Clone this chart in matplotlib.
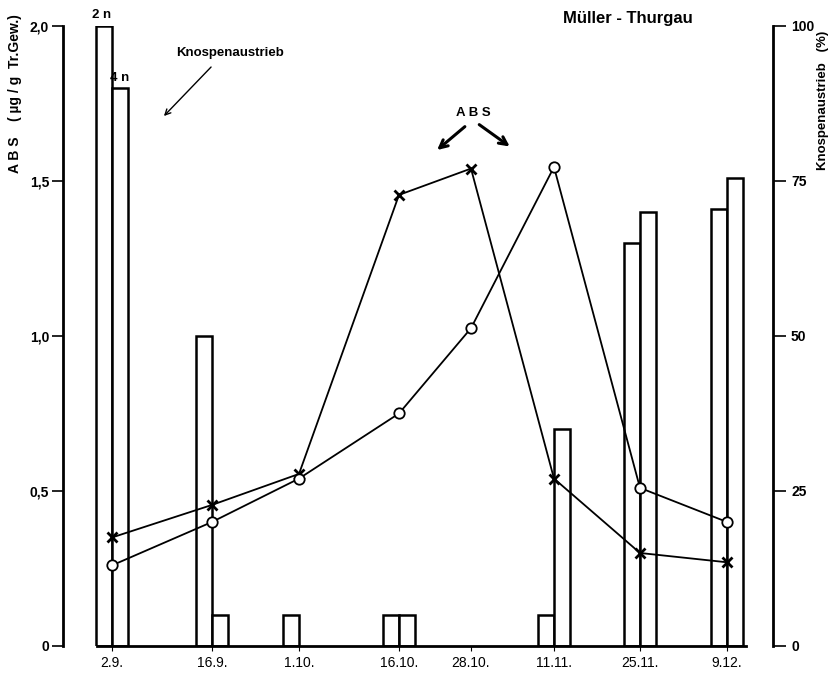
import numpy as np
import matplotlib
matplotlib.use("Agg")
import matplotlib.pyplot as plt

plt.rcParams['font.family'] = ['Liberation Sans', 'DejaVu Sans']

# sampling dates and where they sit on the (hand drawn, uneven) axis
dates = ["2.9.", "16.9.", "1.10.", "16.10.", "28.10.", "11.11.", "25.11.", "9.12."]
date_pos = [0.0, 1.0, 1.87, 2.87, 3.59, 4.42, 5.28, 6.15]

# Knospenaustrieb (%) for diploid (2n) and tetraploid (4n)
bud_2n = [100, 50, 5, 5, 0, 5, 65, 70.5]
bud_4n = [90, 5, 0, 5, 0, 35, 70, 75.5]

# ABS content (ug/g Tr.Gew.)
abs_cross = [0.35, 0.455, 0.555, 1.455, 1.54, 0.54, 0.30, 0.27]
abs_circle = [0.26, 0.40, 0.54, 0.75, 1.025, 1.545, 0.51, 0.40]

fig = plt.figure(figsize=(8.3, 6.76), dpi=100)
ax = fig.add_axes([0.0759, 0.0444, 0.8554, 0.9172])
ax2 = ax.twinx()

bw = 0.16
xs = np.array(date_pos)
# bars on the percent axis
for x, h in zip(xs, bud_2n):
    if h > 0:
        ax2.bar(x - bw / 2, h, width=bw, facecolor='white', edgecolor='black',
                linewidth=1.8, zorder=2)
for x, h in zip(xs, bud_4n):
    if h > 0:
        ax2.bar(x + bw / 2, h, width=bw, facecolor='white', edgecolor='black',
                linewidth=1.8, zorder=2)

ax2.set_ylim(0, 100)
ax.set_ylim(0, 2.0)
ax.set_xlim(-0.49, 6.61)

# ABS lines drawn on top of the bars
ax2.set_zorder(1)
ax.set_zorder(2)
ax.patch.set_visible(False)
ax.plot(xs, abs_cross, color='black', lw=1.3, marker='x', ms=7.5, mew=2,
        clip_on=False)
ax.plot(xs, abs_circle, color='black', lw=1.3, marker='o', ms=7.5, mew=1.3,
        mfc='white', clip_on=False)

# spines
for s in ['top', 'right', 'bottom']:
    ax.spines[s].set_visible(False)
ax.spines['left'].set_linewidth(2)
ax.spines['left'].set_bounds(0, 2.0)
for s in ['top', 'left']:
    ax2.spines[s].set_visible(False)
ax2.spines['right'].set_linewidth(2)
ax2.spines['right'].set_bounds(0, 100)
ax2.spines['bottom'].set_linewidth(2)
ax2.spines['bottom'].set_bounds(-0.15, 6.34)

ax.set_yticks([0, 0.5, 1.0, 1.5, 2.0])
ax.set_yticklabels(["0", "0,5", "1,0", "1,5", "2,0"], fontsize=10, fontweight='bold')
ax.tick_params(axis='y', direction='out', length=8, width=1.2, pad=2)

ax2.set_yticks([0, 25, 50, 75, 100])
ax2.set_yticklabels(["0", "25", "50", "75", "100"], fontsize=10, fontweight='bold')
ax2.tick_params(axis='y', direction='out', length=9, width=1.2, pad=4)

ax.set_xticks([])
ax2.set_xticks(xs)
ax2.set_xticklabels(dates, fontsize=9.5, fontweight='bold')
ax2.tick_params(axis='x', direction='out', length=12, width=0.8, pad=2)

# axis titles
fig.text(0.018, 0.861, "A B S    ( µg / g  Tr.Gew.)", rotation=90, ha='center',
         va='center', fontsize=10, fontweight='bold')
fig.text(0.992, 0.852, "Knospenaustrieb   (%)", rotation=90, ha='center',
         va='center', fontsize=9.5, fontweight='bold')
fig.text(0.757, 0.973, "Müller - Thurgau", ha='center', va='center',
         fontsize=12, fontweight='bold')

# annotations
ax.text(-0.10, 2.035, "2 n", ha='center', va='center', fontsize=9.5,
        fontweight='bold')
ax.text(0.08, 1.832, "4 n", ha='center', va='center', fontsize=9.5,
        fontweight='bold')
ax.text(1.18, 1.913, "Knospenaustrieb", ha='center', va='center', fontsize=9.5,
        fontweight='bold')
ax.annotate("", xy=(0.50, 1.703), xytext=(1.01, 1.874),
            arrowprops=dict(arrowstyle='->', color='black', lw=1.0))
ax.text(3.61, 1.719, "A B S", ha='center', va='center', fontsize=9.5,
        fontweight='bold')
ax.annotate("", xy=(3.23, 1.594), xytext=(3.55, 1.681),
            arrowprops=dict(arrowstyle='->', color='black', lw=2.2,
                            mutation_scale=14))
ax.annotate("", xy=(4.0, 1.606), xytext=(3.65, 1.687),
            arrowprops=dict(arrowstyle='->', color='black', lw=2.2,
                            mutation_scale=14))

fig.savefig("out.png", dpi=100)
